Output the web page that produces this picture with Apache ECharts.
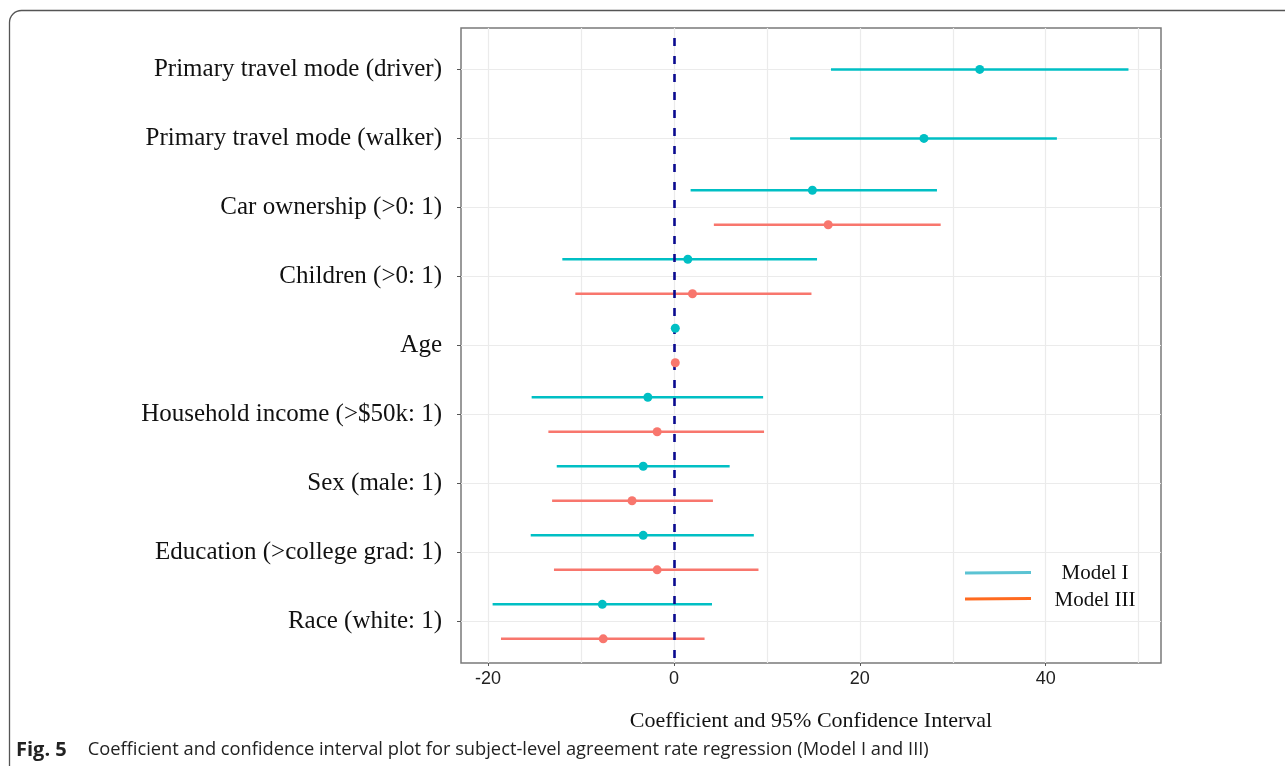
<!DOCTYPE html>
<html><head><meta charset="utf-8">
<script src="https://cdn.jsdelivr.net/npm/echarts@6/dist/echarts.min.js"></script>
<style>html,body{margin:0;padding:0;background:#fff}#c{width:1285px;height:766px}</style>
</head><body><div id="c"></div>
<script>
const categories = [
  'Primary travel mode (driver)',
  'Primary travel mode (walker)',
  'Car ownership (>0: 1)',
  'Children (>0: 1)',
  'Age',
  'Household income (>$50k: 1)',
  'Sex (male: 1)',
  'Education (>college grad: 1)',
  'Race (white: 1)'
];
const model1Est = [32.9, 26.9, 14.9, 1.5, 0.15, -2.8, -3.3, -3.3, -7.7];
const model1Lo  = [16.9, 12.5, 1.8, -12.0, 0.0, -15.3, -12.6, -15.4, -19.5];
const model1Hi  = [48.9, 41.2, 28.3, 15.4, 0.3, 9.6, 6.0, 8.6, 4.1];
const model3Est = [null, null, 16.6, 2.0, 0.15, -1.8, -4.5, -1.8, -7.6];
const model3Lo  = [null, null, 4.3, -10.6, 0.0, -13.5, -13.1, -12.9, -18.6];
const model3Hi  = [null, null, 28.7, 14.8, 0.3, 9.7, 4.2, 9.1, 3.3];
const xTicks = [-20, 0, 20, 40];
const xGrid = [-20, -10, 0, 10, 20, 30, 40, 50];
const seriesNames = ['Model I', 'Model III'];

const DODGE = 0.25;
const C1 = '#00BFC4', C3 = '#F8766D';
const catIdx = categories.map((_, i) => i);

function build(est, lo, hi, sign, other) {
  const pts = [], bars = [];
  est.forEach((v, i) => {
    if (v == null) return;
    const y = other[i] == null ? i : i + sign * DODGE;
    pts.push([v, y]);
    bars.push([lo[i], hi[i], y]);
  });
  return { pts, bars };
}
const m1 = build(model1Est, model1Lo, model1Hi, -1, model3Est);
const m3 = build(model3Est, model3Lo, model3Hi, 1, model1Est);

function barRenderer(color) {
  return function (params, api) {
    const a = api.coord([api.value(0), api.value(2)]);
    const b = api.coord([api.value(1), api.value(2)]);
    return { type: 'line', shape: { x1: a[0], y1: a[1], x2: b[0], y2: b[1] },
      style: { stroke: color, lineWidth: 2.5 } };
  };
}

const chart = echarts.init(document.getElementById('c'));
const serif = '"Liberation Serif","Times New Roman",serif';
chart.setOption({
  animation: false,
  grid: { left: 461, right: 124, top: 28, bottom: 103, show: true,
    borderColor: '#7a7a7a', borderWidth: 1.5, backgroundColor: '#fff' },
  xAxis: {
    type: 'value', min: -22.9, max: 52.4,
    axisLine: { show: false, onZero: false },
    axisTick: { show: true, length: 3, customValues: xTicks, lineStyle: { color: '#555' } },
    axisLabel: { customValues: xTicks, fontFamily: '"Liberation Sans",Arial,sans-serif',
      fontSize: 18, color: '#222', margin: 7 },
    splitLine: { show: false },
    name: 'Coefficient and 95% Confidence Interval', nameLocation: 'middle', nameGap: 47,
    nameTextStyle: { fontFamily: serif, fontSize: 22, color: '#111' }
  },
  yAxis: {
    type: 'value', inverse: true, min: -0.6, max: 8.6,
    axisLine: { show: false, onZero: false },
    axisTick: { show: true, length: 4, customValues: catIdx, lineStyle: { color: '#555' } },
    axisLabel: { customValues: catIdx, formatter: v => categories[Math.round(v)],
      fontFamily: serif, fontSize: 25, color: '#111', margin: 19, padding: [4, 0, 0, 0] },
    splitLine: { show: false }
  },
  title: {
    text: '{b|Fig. 5}{n|Coefficient and confidence interval plot for subject-level agreement rate regression (Model I and III)}',
    left: 16, top: 740, padding: 0,
    textStyle: { fontWeight: 'normal', rich: {
      b: { fontFamily: '"Open Sans",sans-serif', fontWeight: 'bold', fontSize: 20, color: '#222', padding: [0, 21, 0, 0] },
      n: { fontFamily: '"Open Sans",sans-serif', fontWeight: 'normal', fontSize: 18.3, color: '#222' }
    } }
  },
  series: [
    { type: 'scatter', data: [], z: 1, silent: true,
      markLine: { silent: true, z: 0, symbol: 'none', label: { show: false }, animation: false,
        lineStyle: { color: '#ebebeb', width: 1.2, type: 'solid' },
        data: xGrid.map(v => ({ xAxis: v })).concat(catIdx.map(v => ({ yAxis: v }))) } },
    { type: 'custom', name: seriesNames[0], renderItem: barRenderer(C1), data: m1.bars,
      encode: { x: [0, 1], y: 2 }, z: 2 },
    { type: 'custom', name: seriesNames[1], renderItem: barRenderer(C3), data: m3.bars,
      encode: { x: [0, 1], y: 2 }, z: 2 },
    { type: 'scatter', data: [], z: 3, silent: true,
      markLine: { silent: true, z: 3, symbol: 'none', label: { show: false }, animation: false,
        lineStyle: { color: '#0a0a8f', width: 2.6, type: [8, 10], dashOffset: 8 },
        data: [{ xAxis: 0 }] } },
    { type: 'scatter', name: seriesNames[0], data: m1.pts, symbolSize: 9, z: 4,
      itemStyle: { color: C1, opacity: 1 } },
    { type: 'scatter', name: seriesNames[1], data: m3.pts, symbolSize: 9, z: 4,
      itemStyle: { color: C3, opacity: 1 } }
  ],
  graphic: [
    { type: 'rect', shape: { x: 9.5, y: 10.5, width: 1300, height: 770, r: 12 },
      style: { fill: 'none', stroke: '#555', lineWidth: 1.3 }, z: -10, silent: true },
    { type: 'line', shape: { x1: 965, y1: 573, x2: 1031, y2: 572.5 },
      style: { stroke: '#5bc3d3', lineWidth: 3 }, z: 100 },
    { type: 'line', shape: { x1: 965, y1: 599, x2: 1031, y2: 598.5 },
      style: { stroke: '#ff6a1f', lineWidth: 3 }, z: 100 },
    { type: 'text', x: 1095, y: 573, z: 100,
      style: { text: seriesNames[0], font: '21px ' + serif, fill: '#111', align: 'center', verticalAlign: 'middle' } },
    { type: 'text', x: 1095, y: 600, z: 100,
      style: { text: seriesNames[1], font: '21px ' + serif, fill: '#111', align: 'center', verticalAlign: 'middle' } }
  ]
});
</script></body></html>
